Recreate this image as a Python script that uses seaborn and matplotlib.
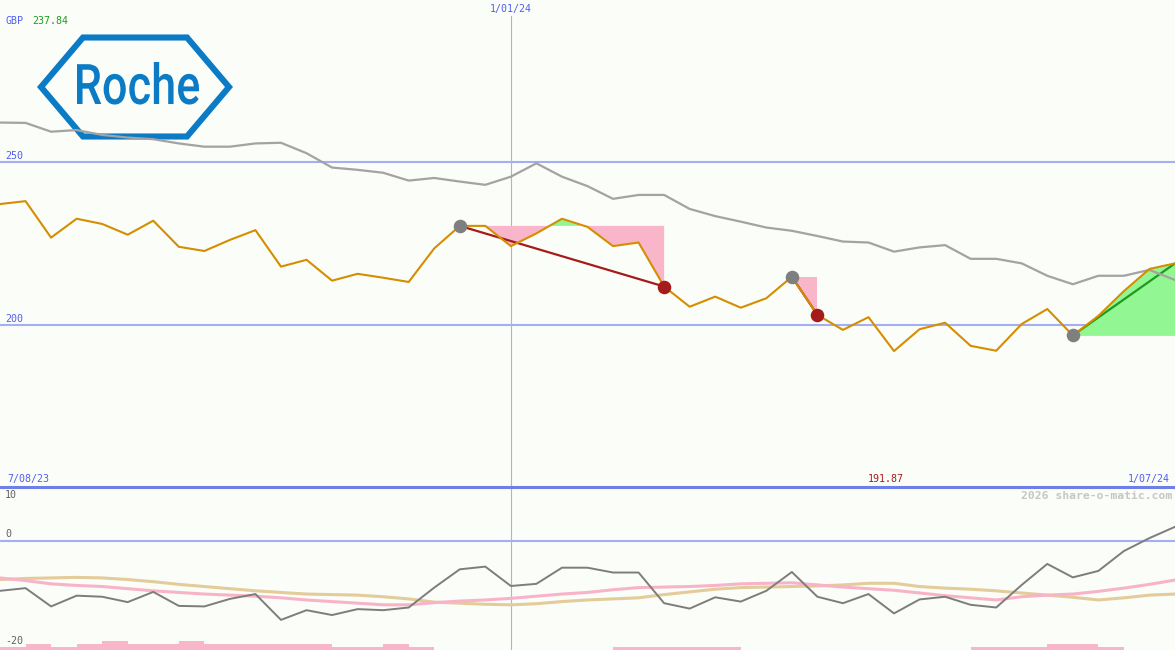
import seaborn as sns
import matplotlib.pyplot as plt
from matplotlib.patches import Polygon, PathPatch
from matplotlib.textpath import TextPath
from matplotlib.font_manager import FontProperties
from matplotlib.transforms import Affine2D

sns.set_style("white")
plt.rcParams['font.family'] = ['DejaVu Sans Mono', 'DejaVu Sans']

# weekly closes, 7/08/23 .. 1/07/24
weeks = list(range(47))
price = [237.0, 237.9, 226.7, 232.5, 230.9, 227.6, 231.9, 223.9, 222.6, 226.0,
         229.0, 217.8, 219.9, 213.5, 215.6, 214.4, 213.1, 223.4, 230.3, 230.3,
         224.1, 228.0, 232.5, 230.0, 224.1, 225.2, 211.7, 205.5, 208.6, 205.2,
         208.1, 214.7, 203.0, 198.4, 202.3, 191.9, 198.6, 200.6, 193.5, 192.0,
         200.2, 204.8, 196.7, 202.7, 210.3, 217.1, 218.8]
index_line = [262.0, 261.9, 259.2, 259.7, 258.2, 257.4, 256.9, 255.6, 254.6, 254.6,
              255.6, 255.8, 252.6, 248.2, 247.5, 246.6, 244.2, 245.0, 243.9, 242.9,
              245.4, 249.5, 245.4, 242.5, 238.6, 239.8, 239.8, 235.5, 233.3, 231.6,
              229.8, 228.8, 227.2, 225.5, 225.2, 222.4, 223.7, 224.4, 220.2, 220.2,
              218.8, 215.0, 212.4, 215.0, 215.0, 216.8, 213.7]

# lower panel
momentum = [-9.3, -8.8, -12.2, -10.2, -10.4, -11.4, -9.5, -12.1, -12.2, -10.8,
            -9.9, -14.7, -12.9, -13.8, -12.7, -12.9, -12.4, -8.7, -5.3, -4.8,
            -8.4, -8.0, -5.0, -5.0, -5.9, -5.9, -11.6, -12.6, -10.5, -11.3,
            -9.3, -5.8, -10.4, -11.6, -9.9, -13.5, -10.9, -10.4, -11.9, -12.4,
            -8.2, -4.3, -6.8, -5.6, -1.9, 0.5, 2.6]
signal_pink = [-6.9, -7.4, -8.0, -8.3, -8.5, -8.9, -9.3, -9.6, -9.9, -10.1,
               -10.3, -10.6, -11.0, -11.3, -11.6, -11.9, -11.9, -11.5, -11.2, -11.0,
               -10.7, -10.3, -9.9, -9.6, -9.1, -8.7, -8.6, -8.5, -8.3, -8.0,
               -7.9, -7.8, -8.2, -8.6, -8.9, -9.2, -9.7, -10.2, -10.6, -11.0,
               -10.4, -10.1, -9.9, -9.4, -8.8, -8.1, -7.3]
signal_tan = [-7.2, -7.0, -6.9, -6.8, -6.9, -7.2, -7.6, -8.1, -8.5, -8.9,
              -9.3, -9.6, -9.9, -10.0, -10.1, -10.4, -10.8, -11.4, -11.6, -11.8,
              -11.9, -11.7, -11.3, -11.0, -10.8, -10.6, -10.0, -9.5, -9.0, -8.7,
              -8.6, -8.5, -8.4, -8.2, -7.9, -7.9, -8.5, -8.8, -9.0, -9.3,
              -9.7, -10.1, -10.5, -11.0, -10.6, -10.1, -9.9]
volume = [0.55, 1.1, 0.55, 1.1, 1.65, 1.1, 1.1, 1.65, 1.1, 1.1, 1.1, 1.1, 1.1,
          0.55, 0.55, 1.1, 0.55, 0, 0, 0, 0, 0, 0, 0, 0.55, 0.55, 0.55, 0.55,
          0.55, 0, 0, 0, 0, 0, 0, 0, 0, 0, 0.55, 0.55, 0.55, 1.1, 1.1, 0.55, 0, 0]

# trades: (entry week, exit week)
trades = [(18, 26), (31, 32), (42, 46)]
closed_exits = [26, 32]

first_date, mid_date, last_date = "7/08/23", "1/01/24", "1/07/24"
mid_week = 20
currency, last_quote, low_quote = "GBP", "237.84", "191.87"
price_ticks = [250, 200]
osc_labels = [10, 0, -20]

BG = '#fbfdf9'
GRID = '#a4aef2'
SEP = '#6f7fe8'
VLINE = '#a8b0ee'
TXT = '#4f5ff0'
ORANGE = '#d48e00'
PINK = '#f9b5c9'
GREEN = '#92f792'
DARKRED = '#a51b1b'
ROCHE = '#0b7bc6'

fig = plt.figure(figsize=(11.75, 6.5), dpi=100, facecolor=BG)

# logo sits behind the chart lines
lg = fig.add_axes([0, 0, 1, 1], zorder=0)
lg.set_xlim(0, 1175)
lg.set_ylim(650, 0)
lg.axis('off')
lg.patch.set_alpha(0)
hexagon = Polygon([(41, 87), (83, 37.5), (187, 37.5), (229, 87), (187, 136.5), (83, 136.5)],
                  closed=True, fill=False, ec=ROCHE, lw=4.4, joinstyle='miter')
lg.add_patch(hexagon)
tp = TextPath((0, 0), "Roche", size=100, prop=FontProperties(family="Roboto", weight="medium"))
bb = tp.get_extents()
tf = Affine2D().translate(-bb.x0, 0).scale(122 / bb.width, -42 / bb.y1).translate(77, 104)
lg.add_patch(PathPatch(tf.transform_path(tp), fc=ROCHE, lw=0))

ax = fig.add_axes([0, 163 / 650, 1, 487 / 650], zorder=1)
low = fig.add_axes([0, 0, 1, 163 / 650], zorder=1)
for a in (ax, low):
    a.set_facecolor('none')
    a.set_xlim(0, 46)
    a.set_xticks([])
    a.set_yticks([])
    for s in a.spines.values():
        s.set_visible(False)
ax.set_ylim(150.2, 299.6)
low.set_ylim(-20.3, 10)

# main panel
for t in price_ticks:
    ax.axhline(t, color=GRID, lw=1.5, zorder=1)
    ax.annotate(str(t), xy=(0, t), xytext=(5, 1), textcoords='offset pixels',
                color=TXT, fontsize=7.2, va='bottom')
ax.axvline(mid_week, ymax=1 - 16 / 487, color=VLINE, lw=0.8, zorder=1)

for a_i, b_i in trades:
    xs = weeks[a_i:b_i + 1]
    ys = price[a_i:b_i + 1]
    lvl = price[a_i]
    ax.fill_between(xs, lvl, ys, where=[y < lvl for y in ys], interpolate=True,
                    color=PINK, lw=0, zorder=2)
    ax.fill_between(xs, lvl, ys, where=[y >= lvl for y in ys], interpolate=True,
                    color=GREEN, lw=0, zorder=2)
    col = DARKRED if price[b_i] < lvl else '#1f9a1f'
    ax.plot([weeks[a_i], weeks[b_i]], [lvl, price[b_i]], color=col, lw=1.6, zorder=3)

sns.lineplot(x=weeks, y=index_line, ax=ax, color='#a3a3a3', lw=1.6, zorder=3)
sns.lineplot(x=weeks, y=price, ax=ax, color=ORANGE, lw=1.5, zorder=4)
sns.scatterplot(x=[weeks[a] for a, b in trades], y=[price[a] for a, b in trades],
                ax=ax, color='#7f7f7f', s=95, linewidth=0, zorder=5)
sns.scatterplot(x=[weeks[i] for i in closed_exits], y=[price[i] for i in closed_exits],
                ax=ax, color=DARKRED, s=95, linewidth=0, zorder=5)

# lower panel
low.axhline(0, color=GRID, lw=1.5, zorder=1)
low.axhline(10, color=SEP, lw=2.2, clip_on=False, zorder=6)
low.axvline(mid_week, color=VLINE, lw=0.8, zorder=1)
low.bar(weeks[:-1], volume, width=1, align='edge', bottom=-20.3, color=PINK, lw=0)
sns.lineplot(x=weeks, y=signal_tan, ax=low, color='#e3cc9a', lw=2.2, zorder=2)
sns.lineplot(x=weeks, y=signal_pink, ax=low, color='#f9b3c8', lw=2.2, zorder=2)
sns.lineplot(x=weeks, y=momentum, ax=low, color='#7d7d7d', lw=1.4, zorder=3)
for v, off, va in zip(osc_labels, [-3, 2, 2], ['top', 'bottom', 'bottom']):
    low.annotate(str(v), xy=(0, v), xytext=(5, off), textcoords='offset pixels',
                 color='#606060', fontsize=7.2, va=va)

# overlay in pixel coordinates for the header / footer labels
ov = fig.add_axes([0, 0, 1, 1], zorder=2)
ov.set_xlim(0, 1175)
ov.set_ylim(650, 0)
ov.axis('off')
ov.patch.set_alpha(0)

ov.text(5, 21, currency, color=TXT, fontsize=7.2, va='center')
ov.text(32, 21, last_quote, color='#1f9a1f', fontsize=7.2, va='center')
ov.text(511, 9, mid_date, color=TXT, fontsize=7.2, va='center', ha='center')
ov.text(7, 479, first_date, color=TXT, fontsize=7.2, va='center')
ov.text(886, 479, low_quote, color=DARKRED, fontsize=7.2, va='center', ha='center')
ov.text(1170, 479, last_date, color=TXT, fontsize=7.2, va='center', ha='right')
ov.text(1172, 496, "2026 share-o-matic.com", color='#c6c6c6', fontsize=8.2,
        weight='bold', va='center', ha='right')

fig.savefig("out.png", dpi=100, facecolor=BG)
